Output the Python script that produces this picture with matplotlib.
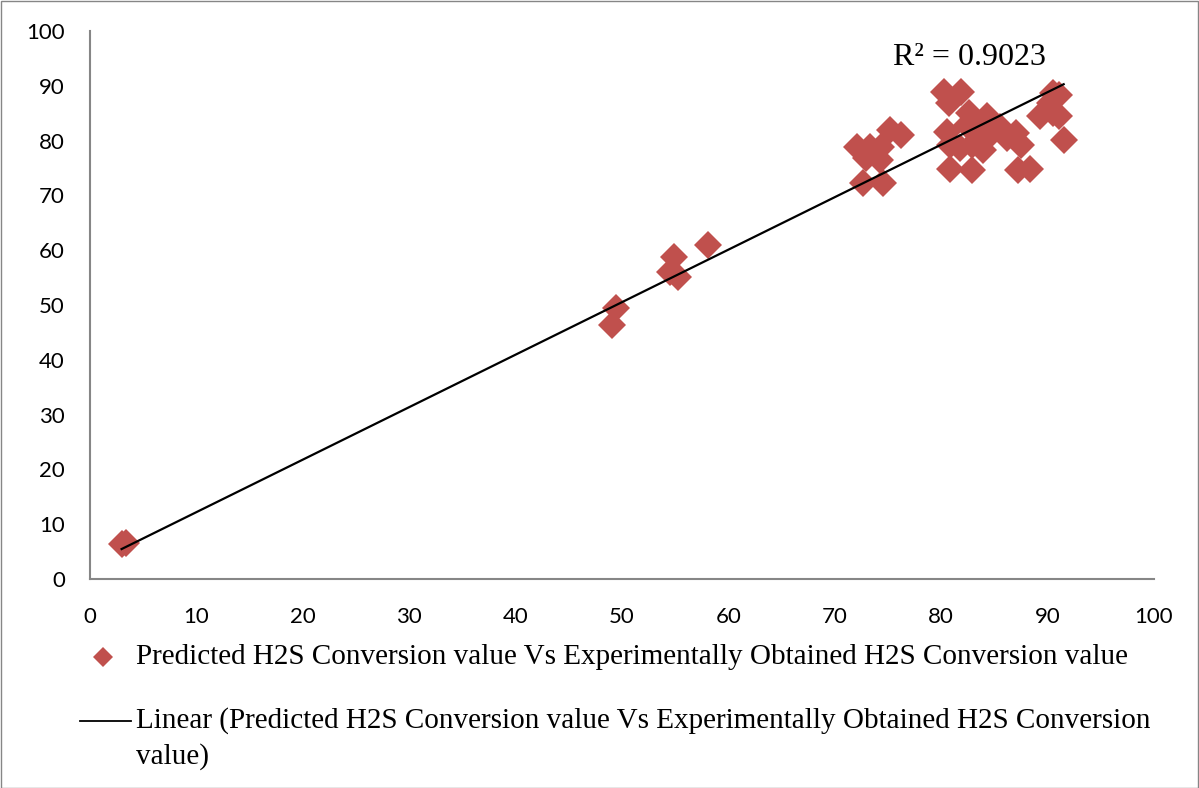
import matplotlib.pyplot as plt
from matplotlib.lines import Line2D
from matplotlib.patches import Rectangle

# experimental (x) vs predicted (y) H2S conversion, %
experimental = [2.97, 3.37, 49.07, 49.47, 54.53, 54.92, 55.22, 58.10,
                72.08, 73.27, 74.36, 75.15, 76.24, 72.97, 74.26, 72.67, 74.56,
                80.31, 81.89, 80.70, 82.59, 84.27, 80.50, 82.39, 83.68, 85.56, 87.05,
                80.80, 81.80, 82.89, 83.97, 84.27, 86.16, 87.54, 80.80, 82.89, 87.25, 88.34,
                90.52, 91.11, 90.22, 89.33, 90.52, 91.11, 91.51]
predicted = [6.4, 6.6, 46.3, 49.4, 56.1, 58.8, 55.2, 61.0,
             78.8, 78.8, 78.8, 81.9, 81.0, 76.8, 76.5, 72.2, 72.2,
             88.9, 88.9, 86.8, 85.0, 84.4, 81.6, 82.8, 82.2, 82.5, 81.3,
             79.2, 78.6, 79.2, 78.3, 80.4, 80.4, 79.2, 74.9, 74.6, 74.6, 74.9,
             88.6, 88.3, 86.8, 84.4, 85.0, 84.4, 80.1]

# Excel linear trendline
trend_slope = 0.958
trend_intercept = 2.62
r2_label = 'R² = 0.9023'
series_name = 'Predicted H2S Conversion value Vs Experimentally Obtained H2S Conversion value'

red = '#C0504D'
grey = '#868686'
W, H = 1199, 788

fig = plt.figure(figsize=(11.99, 7.88), dpi=100)
ax = fig.add_axes([90 / W, 1 - 579 / H, (1154 - 90) / W, (579 - 31) / H])

ax.plot(experimental, predicted, linestyle='none', marker='D', markersize=14,
        color=red, markeredgewidth=0)

x0, x1 = min(experimental), max(experimental)
ax.plot([x0, x1], [trend_slope * x0 + trend_intercept, trend_slope * x1 + trend_intercept],
        color='black', linewidth=1.6)

ax.text(0.755, 0.952, r2_label, transform=ax.transAxes, fontsize=23,
        family='Liberation Serif', va='center', ha='left')

ax.set_xlim(0, 100)
ax.set_ylim(0, 100)
ax.set_xticks(range(0, 101, 10))
ax.set_yticks(range(0, 101, 10))
for s in ['top', 'right']:
    ax.spines[s].set_visible(False)
for s in ['left', 'bottom']:
    ax.spines[s].set_color(grey)
    ax.spines[s].set_linewidth(1.5)
ax.tick_params(length=0, labelsize=16)
ax.tick_params(axis='y', pad=18)
ax.tick_params(axis='x', pad=20)
for lab in ax.get_xticklabels() + ax.get_yticklabels():
    lab.set_family('Lato')

# legend drawn by hand so the line sits on the first text row
fig.add_artist(Line2D([103 / W], [1 - 657 / H], marker='D', markersize=10,
                      color=red, markeredgewidth=0, linestyle='none'))
fig.text(136 / W, 1 - 657 / H, series_name, fontsize=21,
         family='Liberation Serif', va='center', ha='left')
fig.add_artist(Line2D([80 / W, 131 / W], [1 - 721 / H, 1 - 721 / H],
                      color='black', linewidth=1.3))
fig.text(136 / W, 1 - 721 / H, 'Linear (' + series_name.rsplit(' ', 1)[0],
         fontsize=21, family='Liberation Serif', va='center', ha='left')
fig.text(136 / W, 1 - 757 / H, 'value)', fontsize=21,
         family='Liberation Serif', va='center', ha='left')

fig.add_artist(Rectangle((0.5 / W, 0.5 / H), 1 - 1.5 / W, 1 - 1.5 / H,
                         fill=False, edgecolor=grey, linewidth=1,
                         transform=fig.transFigure))

fig.savefig('out.png', dpi=100)
